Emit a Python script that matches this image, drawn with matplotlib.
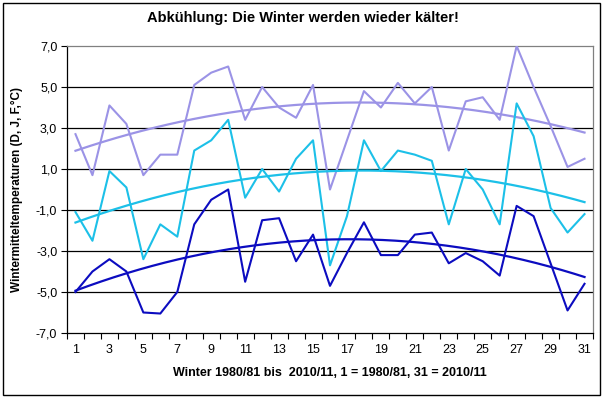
import numpy as np
import matplotlib
matplotlib.use('Agg')
import matplotlib.pyplot as plt
from matplotlib.patches import Rectangle

# Winter 1 = 1980/81 ... 31 = 2010/11
winters = np.arange(1, 32)

# obere Reihe (lila)
reihe_lila = [2.7, 0.7, 4.1, 3.2, 0.7, 1.7, 1.7, 5.1, 5.7, 6.0,
              3.4, 5.0, 4.0, 3.5, 5.1, 0.0, 2.4, 4.8, 4.0, 5.2,
              4.2, 5.0, 1.9, 4.3, 4.5, 3.4, 7.0, 5.0, 3.1, 1.1,
              1.5]
# mittlere Reihe (hellblau)
reihe_cyan = [-1.1, -2.5, 0.9, 0.1, -3.4, -1.7, -2.3, 1.9, 2.4, 3.4,
              -0.4, 1.0, -0.1, 1.5, 2.4, -3.7, -1.3, 2.4, 0.9, 1.9,
              1.7, 1.4, -1.7, 1.0, 0.0, -1.7, 4.2, 2.6, -0.9, -2.1,
              -1.2]
# untere Reihe (dunkelblau)
reihe_blau = [-5.0, -4.0, -3.4, -4.0, -6.0, -6.05, -5.0, -1.7, -0.5, 0.0,
              -4.5, -1.5, -1.4, -3.5, -2.2, -4.7, -3.1, -1.6, -3.2, -3.2,
              -2.2, -2.1, -3.6, -3.1, -3.5, -4.2, -0.8, -1.3, -3.6, -5.9,
              -4.6]

y_ticks = np.arange(-7, 8, 2)
x_labels = np.arange(1, 32, 2)

farben = ['#9b93e6', '#1cc0e8', '#0c0cc0']

plt.rcParams['font.family'] = ['Liberation Sans', 'DejaVu Sans']

fig = plt.figure(figsize=(6.05, 3.99), dpi=100)
ax = fig.add_axes([67 / 605, 1 - 333 / 399, 526 / 605, 287 / 399])

for werte, farbe in zip([reihe_lila, reihe_cyan, reihe_blau], farben):
    ax.plot(winters, werte, color=farbe, lw=1.5, zorder=3)
    # polynomischer Trend 2. Ordnung wie in Excel
    koeff = np.polyfit(winters, werte, 2)
    xs = np.linspace(1, 31, 200)
    ax.plot(xs, np.polyval(koeff, xs), color=farbe, lw=1.6, zorder=3)

ax.set_xlim(0.5, 31.5)
ax.set_ylim(-7, 7)
ax.set_yticks(y_ticks)
ax.set_yticklabels([f'{v:.1f}'.replace('.', ',') for v in y_ticks])
ax.set_xticks(x_labels)
ax.set_xticks(np.arange(0.5, 32, 1), minor=True)
ax.tick_params(axis='x', which='major', length=0, pad=8, labelsize=9)
ax.tick_params(axis='x', which='minor', length=4, direction='out', width=0.8)
ax.tick_params(axis='y', length=4, direction='out', width=0.8, labelsize=9, pad=3)

for v in y_ticks[1:-1]:
    ax.axhline(v, color='black', lw=0.9, zorder=1)

ax.spines['left'].set_color('black')
ax.spines['bottom'].set_color('black')
ax.spines['top'].set_color('#808080')
ax.spines['right'].set_color('#808080')
for s in ax.spines.values():
    s.set_linewidth(0.9)

ax.set_xlabel('Winter 1980/81 bis  2010/11, 1 = 1980/81, 31 = 2010/11',
              fontsize=9, fontweight='bold', labelpad=8)
ax.set_ylabel('Wintermitteltemperaturen (D, J, F,°C)', fontsize=8.5,
              fontweight='bold', labelpad=9)
fig.text(0.5, 1 - 18 / 399, 'Abkühlung: Die Winter werden wieder kälter!',
         ha='center', va='center', fontsize=10.5, fontweight='bold')

# Rahmen um das ganze Diagramm
fig.patches.append(Rectangle((3 / 605, 4 / 399), 597 / 605, 392 / 399,
                             transform=fig.transFigure, fill=False,
                             edgecolor='black', lw=1.0))

fig.savefig('out.png', dpi=100)
